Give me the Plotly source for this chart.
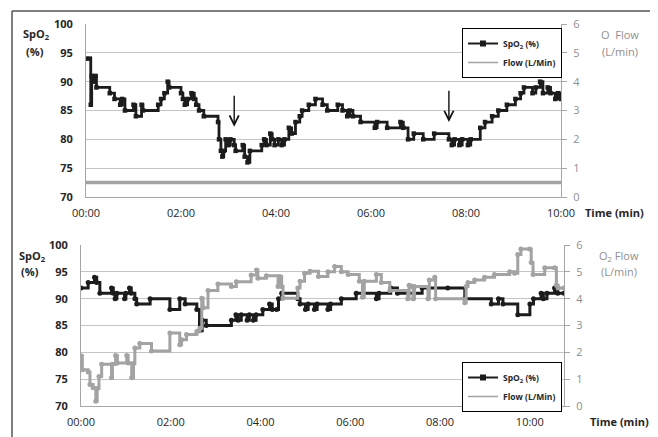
import plotly.graph_objects as go

# ---------------- data ----------------
tick_vals = [0, 2, 4, 6, 8, 10]
tick_text = ["00:00", "02:00", "04:00", "06:00", "08:00", "10:00"]

# top panel: SpO2 (%) over time (min)
top_t = [0.00, 0.08, 0.10, 0.12, 0.17, 0.20, 0.22, 0.50, 0.60, 0.72, 0.76, 0.82, 1.00, 1.05, 1.17, 1.20,
         1.52, 1.58, 1.65, 1.72, 1.75, 2.00, 2.04, 2.08, 2.14, 2.22, 2.28, 2.32, 2.38, 2.48, 2.78, 2.80,
         2.84, 2.87, 2.90, 2.94, 3.00, 3.04, 3.12, 3.15, 3.30, 3.34, 3.40, 3.45, 3.70, 3.75, 3.80, 3.88,
         3.92, 3.97, 4.05, 4.12, 4.18, 4.27, 4.33, 4.41, 4.50, 4.55, 4.69, 4.83, 4.98, 5.08, 5.30, 5.40,
         5.50, 5.55, 5.62, 5.78, 6.08, 6.13, 6.34, 6.62, 6.68, 6.78, 6.90, 7.10, 7.33, 7.64, 7.70, 7.76,
         7.86, 7.92, 8.04, 8.10, 8.30, 8.40, 8.55, 8.68, 8.86, 9.04, 9.15, 9.22, 9.40, 9.47, 9.56, 9.62,
         9.72, 9.78, 9.88, 9.94, 10.00]
top_spo2 = [94, 94, 86, 91, 90, 91, 89, 88, 87, 86, 87, 85, 86, 84, 86, 85,
            86, 87, 88, 90, 89, 88, 87, 86, 87, 88, 87, 86, 85, 84, 83, 80,
            78, 77, 78, 80, 79, 80, 79, 78, 79, 77, 76, 78, 79, 80, 79, 81,
            80, 79, 80, 79, 80, 82, 81, 83, 84, 85, 86, 87, 86, 85, 86, 85,
            84, 85, 84, 83, 82, 83, 82, 83, 82, 80, 81, 80, 81, 80, 79, 80,
            79, 80, 79, 80, 82, 83, 84, 85, 86, 87, 88, 89, 88, 89, 90, 88,
            89, 88, 87, 88, 87]
# top panel: O2 flow (L/min)
top_flow_t = [0.0, 10.0]
top_flow = [0.5, 0.5]

# bottom panel: SpO2 (%)
bot_t = [0.00, 0.16, 0.30, 0.35, 0.42, 0.68, 0.72, 0.76, 0.80, 0.97, 1.00, 1.08, 1.12, 1.20, 1.24, 1.54,
         1.98, 2.20, 2.32, 2.58, 2.64, 2.70, 2.79, 3.35, 3.45, 3.50, 3.57, 3.70, 3.75, 3.84, 3.90, 4.05,
         4.20, 4.26, 4.36, 4.40, 4.47, 4.83, 4.88, 5.00, 5.06, 5.20, 5.26, 5.50, 5.56, 5.80, 6.13, 6.58,
         6.64, 6.90, 7.05, 7.60, 8.17, 8.55, 9.14, 9.30, 9.40, 9.73, 10.00, 10.08, 10.25, 10.30, 10.38,
         10.55, 10.62, 10.76]
bot_spo2 = [92, 93, 94, 93, 91, 92, 91, 90, 91, 90, 91, 92, 91, 90, 89, 90,
            88, 90, 89, 88, 84, 86, 85, 86, 87, 86, 87, 86, 87, 86, 87, 88,
            89, 88, 88, 90, 91, 90, 89, 88, 89, 88, 89, 88, 89, 90, 91, 90,
            91, 92, 91, 92, 92, 90, 89, 90, 89, 87, 89, 90, 91, 90, 91,
            92, 91, 91]
# bottom panel: O2 flow (L/min)
bot_flow_t = [0.00, 0.03, 0.16, 0.20, 0.27, 0.33, 0.36, 0.40, 0.46, 0.68, 0.70, 0.77, 0.81, 1.02, 1.05,
              1.13, 1.17, 1.20, 1.31, 1.57, 1.98, 2.20, 2.24, 2.35, 2.58, 2.65, 2.69, 2.72, 2.83, 3.05,
              3.35, 3.46, 3.79, 3.91, 3.94, 4.13, 4.39, 4.43, 4.47, 4.50, 4.83, 4.88, 4.98, 5.10, 5.29,
              5.50, 5.65, 5.80, 5.95, 6.20, 6.27, 6.31, 6.58, 6.69, 6.88, 7.28, 7.31, 7.36, 7.40, 7.43,
              7.73, 7.76, 7.88, 7.90, 8.55, 8.58, 8.62, 8.77, 8.99, 9.21, 9.55, 9.66, 9.73, 9.80, 9.99,
              10.03, 10.07, 10.33, 10.55, 10.59, 10.63, 10.76]
bot_flow = [1.87, 1.35, 1.27, 0.80, 0.68, 0.18, 0.65, 1.10, 1.56, 1.05, 1.56, 1.88, 1.60, 1.88, 1.60,
            1.05, 1.58, 2.16, 2.33, 2.05, 2.72, 2.28, 2.47, 2.66, 2.78, 2.90, 4.02, 3.66, 4.30, 4.55,
            4.45, 4.63, 4.88, 5.07, 4.76, 4.85, 4.45, 4.83, 4.45, 4.02, 4.40, 4.65, 4.95, 5.02, 4.83,
            5.00, 5.20, 5.00, 4.90, 4.65, 4.05, 4.65, 4.90, 4.60, 4.30, 4.00, 4.50, 4.45, 4.00, 4.45,
            4.00, 4.70, 4.80, 4.00, 3.85, 4.45, 4.60, 4.70, 4.80, 4.90, 5.00, 4.95, 5.65, 5.85, 5.85,
            5.35, 4.90, 5.15, 5.15, 4.50, 4.40, 4.40]

# ---------------- style ----------------
OFF = 8                      # page body margin of the html page
W, H = 658 - OFF, 437 - OFF
FONT = "Open Sans"
BLACK = "#1c1c1c"
GRAY = "#a3a3a3"
GRID = "#c4c4c4"
AXIS = "#a6a6a6"
TXT = "#262626"
GTXT = "#8f8f8f"


def px(x):
    return (x - OFF) / W


def py(y):
    return 1 - (y - OFF) / H


fig = go.Figure()

# top panel
fig.add_trace(go.Scatter(x=top_t, y=top_spo2, mode="lines+markers", line=dict(color=BLACK, width=2.8, shape="hv"),
                         marker=dict(symbol="square", size=4.5, color=BLACK), xaxis="x", yaxis="y", showlegend=False))
fig.add_trace(go.Scatter(x=top_flow_t, y=top_flow, mode="lines", line=dict(color=GRAY, width=3.5),
                         xaxis="x", yaxis="y2", showlegend=False))
# bottom panel
fig.add_trace(go.Scatter(x=bot_t, y=bot_spo2, mode="lines+markers", line=dict(color=BLACK, width=3, shape="hv"),
                         marker=dict(symbol="circle", size=5, color=BLACK), xaxis="x2", yaxis="y3", showlegend=False))
fig.add_trace(go.Scatter(x=bot_flow_t, y=bot_flow, mode="lines+markers", line=dict(color=GRAY, width=3, shape="hv"),
                         marker=dict(symbol="circle", size=5, color=GRAY), xaxis="x2", yaxis="y4", showlegend=False))

# legend entries
for lg, xa, ya, ya2 in [("legend", "x", "y", "y2"), ("legend2", "x2", "y3", "y4")]:
    fig.add_trace(go.Scatter(x=[None], y=[None], mode="lines+markers", name="SpO<sub>2</sub> (%)",
                             line=dict(color=BLACK, width=2), marker=dict(symbol="square", size=6, color=BLACK),
                             xaxis=xa, yaxis=ya, legend=lg))
    fig.add_trace(go.Scatter(x=[None], y=[None], mode="lines", name="Flow (L/Min)",
                             line=dict(color=GRAY, width=1.5), xaxis=xa, yaxis=ya2, legend=lg))

xdom_top = [px(86), px(561)]
ydom_top = [py(197), py(24)]
xdom_bot = [px(81), px(564)]
ydom_bot = [py(406), py(245)]

common_x = dict(tickvals=tick_vals, ticktext=tick_text, showgrid=False, showline=True, linecolor=AXIS,
                linewidth=1, ticks="", zeroline=False, tickfont=dict(family=FONT, size=11, color=TXT),
                ticklabelstandoff=6, automargin=False, fixedrange=True)
common_yl = dict(range=[70, 100], dtick=5, showgrid=True, gridcolor=GRID, gridwidth=1, showline=True,
                 linecolor=AXIS, ticks="", zeroline=False, automargin=False,
                 tickfont=dict(family=FONT, size=11, color=TXT, weight="bold"), ticklabelstandoff=10)
common_yr = dict(range=[0, 6], dtick=1, showgrid=False, showline=True, linecolor=AXIS, ticks="outside",
                 ticklen=5, tickcolor=AXIS, side="right", zeroline=False, automargin=False,
                 tickfont=dict(family=FONT, size=11, color=GTXT), ticklabelstandoff=4)

leg_common = dict(xanchor="left", yanchor="top", bordercolor="#000000", borderwidth=1,
                  bgcolor="white", font=dict(family=FONT, size=8.5, color=TXT, weight="bold"),
                  itemwidth=30, tracegroupgap=0)

# outer frame (four edges)
FR = "#555555"
frame = [
    dict(type="line", xref="paper", yref="paper", x0=px(12), x1=px(653), y0=py(11), y1=py(11)),
    dict(type="line", xref="paper", yref="paper", x0=px(12), x1=px(12), y0=py(11), y1=0),
    dict(type="line", xref="paper", yref="paper", x0=px(653), x1=px(653), y0=py(11), y1=0),
]
for s in frame:
    s["line"] = dict(color=FR, width=1.5)
    s["layer"] = "above"

fig.update_layout(
    width=W, height=H, margin=dict(l=0, r=0, t=0, b=0), paper_bgcolor="white", plot_bgcolor="rgba(0,0,0,0)",
    template="none",
    xaxis=dict(domain=xdom_top, range=[0, 10], anchor="y", **common_x),
    yaxis=dict(domain=ydom_top, anchor="x", **common_yl),
    yaxis2=dict(overlaying="y", anchor="x", **common_yr),
    xaxis2=dict(domain=xdom_bot, range=[0, 10.76], anchor="y3", **common_x),
    yaxis3=dict(domain=ydom_bot, anchor="x2", **common_yl),
    yaxis4=dict(overlaying="y3", anchor="x2", **common_yr),
    legend=dict(x=px(462), y=py(28), **leg_common),
    legend2=dict(x=px(462), y=py(362), **leg_common),
    showlegend=True,
    shapes=frame,
)

anns = []


def txt(x, y, s, color=TXT, size=11, bold=True):
    anns.append(dict(x=px(x), y=py(y), xref="paper", yref="paper", text=s, showarrow=False,
                     font=dict(family=FONT, size=size, color=color, weight="bold" if bold else "normal"),
                     xanchor="center", yanchor="middle"))


# axis titles
txt(37, 34, "SpO<sub>2</sub>")
txt(35, 51, "(%)")
txt(620, 35, "O  Flow", GTXT, bold=False)
txt(620, 51, "(L/min)", GTXT, bold=False)
txt(614, 213, "Time (min)")
txt(32, 256, "SpO<sub>2</sub>")
txt(30, 271, "(%)")
txt(619, 256, "O<sub>2</sub> Flow", GTXT, bold=False)
txt(619, 271, "(L/min)", GTXT, bold=False)
txt(619, 421, "Time (min)")

# arrows marking events
arrow_x = [3.12, 7.64]
arrow_tip = [82.2, 83.0]
arrow_tail = [87.8, 88.7]
for xa, tip, tail in zip(arrow_x, arrow_tip, arrow_tail):
    anns.append(dict(x=xa, y=tip, ax=xa, ay=tail, xref="x", yref="y", axref="x", ayref="y", showarrow=True,
                     arrowhead=5, arrowsize=1.3, arrowwidth=1.4, arrowcolor="#111111", text=""))

fig.update_layout(annotations=anns)

fig.write_html("out.html")
